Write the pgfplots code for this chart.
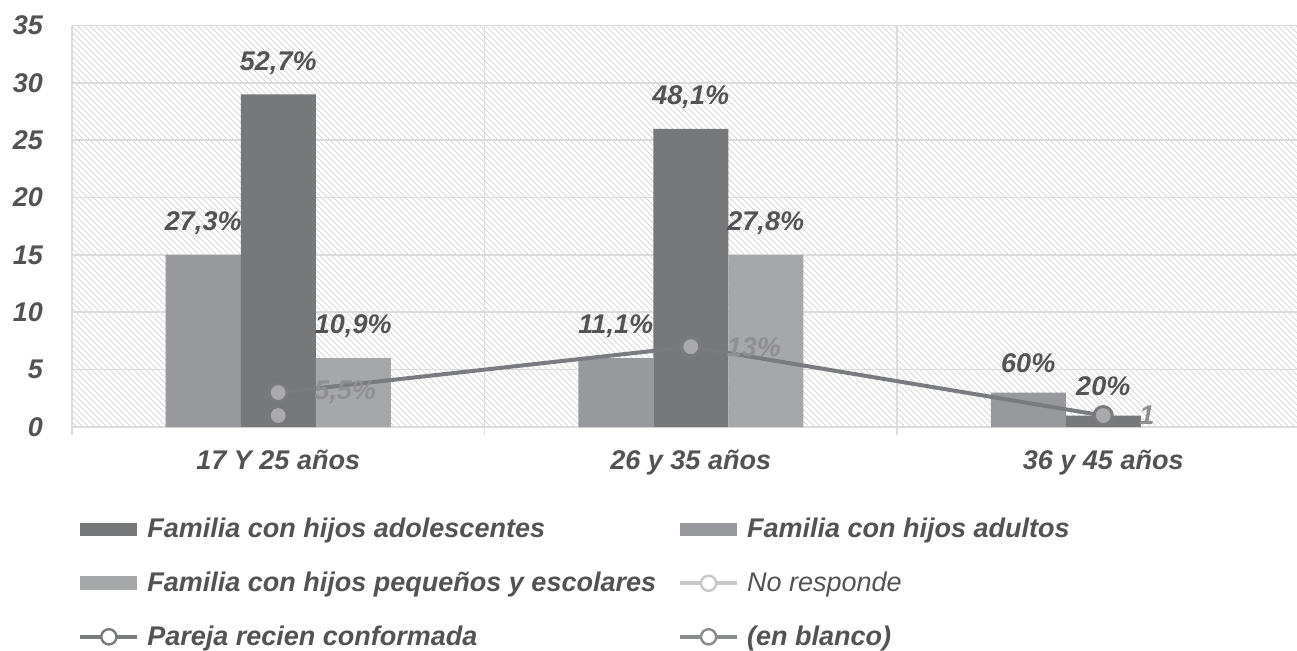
\documentclass[border=0pt]{standalone}
\usepackage{pgfplots}
\pgfplotsset{compat=1.18}
\usetikzlibrary{patterns}
\usepackage{fontspec}
\setmainfont{Liberation Sans}
\definecolor{cAdol}{HTML}{77787A}
\definecolor{cAdul}{HTML}{98999C}
\definecolor{cPeq}{HTML}{A6A7A9}
\definecolor{cLine}{HTML}{7A7B7E}
\definecolor{cMark}{HTML}{AAAAAC}
\definecolor{cBlanco}{HTML}{8A8B8D}
\definecolor{cNoResp}{HTML}{C8C8CA}
\definecolor{cGrid}{HTML}{DCDCDC}
\definecolor{cHatch}{HTML}{D8D8D8}
\definecolor{cText}{HTML}{535356}
\definecolor{cLab}{HTML}{909093}
\newcommand{\fs}{\fontsize{13.5}{16}\selectfont\bfseries\itshape}
\pgfplotsset{
  barlegend/.style={legend image code/.code={\fill[##1, draw=none] (0pt,-3.4pt) rectangle (28.5pt,3.4pt);}},
  linelegend/.style={legend image code/.code={%
    \draw[##1, line width=2pt] (0pt,0pt) -- (28.5pt,0pt);
    \draw[##1, line width=1.2pt, fill=white] (14.25pt,0pt) circle (3.8pt);}},
}
\begin{document}
\begin{tikzpicture}
\begin{axis}[
  scale only axis, width=612.5pt, height=200.75pt,
  xmin=-0.5, xmax=2.4697, ymin=0, ymax=35,
  axis x line*=bottom, axis y line*=left,
  axis line style={draw=cGrid, line width=0.8pt},
  axis background/.style={pattern=north west lines, pattern color=cHatch},
  ytick={0,5,...,35},
  ymajorgrids, major grid style={draw=cGrid, line width=0.8pt},
  xtick={0,1,2},
  xticklabels={17 Y 25 años, 26 y 35 años, 36 y 45 años},
  extra x ticks={-0.5,0.5,1.5},
  extra x tick labels={},
  extra x tick style={xmajorgrids, tick align=outside, major tick length=4pt,
     tick style={draw=cGrid, line width=0.8pt}},
  major tick length=0pt,
  /pgf/number format/assume math mode=true,
  tick label style={font=\fs, text=cText},
  yticklabel style={xshift=-11pt},
  xticklabel style={yshift=-8pt},
  clip=false,
  nodes near coords style={font=\fs, text=cText},
  legend columns=2,
  legend cell align=left,
  legend style={draw=none, fill=none, font=\fs, text=cText,
    at={(0,0)}, anchor=north west, xshift=0pt, yshift=-41.5pt,
    row sep=11.5pt,
    /tikz/every odd column/.append style={column sep=2pt},
    /tikz/every even column/.append style={column sep=9pt}},
]
% Familia con hijos adultos (left bar)
\addplot[ybar, bar width=37.5pt, bar shift=-37.5pt, fill=cAdul, draw=none,
  nodes near coords, point meta=explicit symbolic,
  every node near coord/.append style={anchor=south, yshift=6.5pt, xshift=-37.5pt}, forget plot]
  table[x=x, y=y, meta=lab] {
x y lab
0 15 27,3\%
1 6 11,1\%
2 3 60\%
};
% Familia con hijos adolescentes (middle bar)
\addplot[ybar, bar width=37.5pt, bar shift=0pt, fill=cAdol, draw=none,
  nodes near coords, point meta=explicit symbolic,
  every node near coord/.append style={anchor=south, yshift=6.5pt}, forget plot]
  table[x=x, y=y, meta=lab] {
x y lab
0 29 52,7\%
1 26 48,1\%
2 1 20\%
};
% Familia con hijos pequenos y escolares (right bar)
\addplot[ybar, bar width=37.5pt, bar shift=37.5pt, fill=cPeq, draw=none,
  nodes near coords, point meta=explicit symbolic,
  every node near coord/.append style={anchor=south, yshift=6.5pt, xshift=37.5pt}, forget plot]
  table[x=x, y=y, meta=lab] {
x y lab
0 6 10,9\%
1 15 27,8\%
};
% (en blanco)
\addplot[only marks, mark=*, mark size=3.5pt, mark options={fill=cMark, draw=cMark}, forget plot]
  coordinates {(0,1)};
% Pareja recien conformada
\addplot[draw=cLine, line width=2pt, mark=*, mark size=4.5pt,
  mark options={fill=cMark, draw=cLine, line width=1.5pt},
  nodes near coords, point meta=explicit symbolic,
  every node near coord/.append style={anchor=west, xshift=14pt, text=cLab}, forget plot]
  table[x=x, y=y, meta=lab] {
x y lab
0 3 5,5\%
1 7 13\%
2 1 1
};
\addlegendimage{barlegend, fill=cAdol}
\addlegendentry{Familia con hijos adolescentes}
\addlegendimage{barlegend, fill=cAdul}
\addlegendentry{Familia con hijos adultos}
\addlegendimage{barlegend, fill=cPeq}
\addlegendentry{Familia con hijos pequeños y escolares}
\addlegendimage{linelegend, draw=cNoResp}
\addlegendentry{\mdseries\itshape No responde}
\addlegendimage{linelegend, draw=cLine}
\addlegendentry{Pareja recien conformada}
\addlegendimage{linelegend, draw=cBlanco}
\addlegendentry{(en blanco)}
\end{axis}
\pgfresetboundingbox
\path (-36pt,-111.5pt) rectangle (612.5pt,213.5pt);
\end{tikzpicture}
\end{document}
